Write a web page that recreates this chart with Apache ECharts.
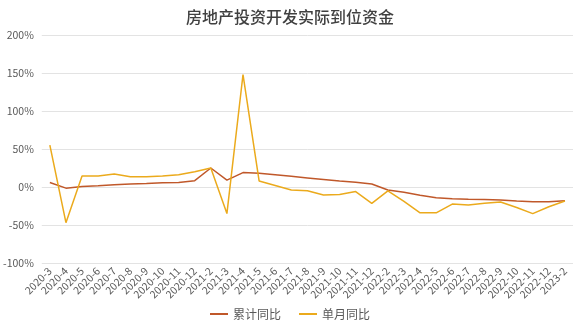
<!DOCTYPE html>
<html><head><meta charset="utf-8">
<script src="https://cdn.jsdelivr.net/npm/echarts@6/dist/echarts.min.js"></script>
<style>html,body{margin:0;padding:0;background:#fff}#c{width:580px;height:326px}</style>
</head><body><div id="c"></div>
<script>
var categories = ['2020-3','2020-4','2020-5','2020-6','2020-7','2020-8','2020-9','2020-10','2020-11','2020-12',
 '2021-2','2021-3','2021-4','2021-5','2021-6','2021-7','2021-8','2021-9','2021-10','2021-11','2021-12',
 '2022-2','2022-3','2022-4','2022-5','2022-6','2022-7','2022-8','2022-9','2022-10','2022-11','2022-12','2023-2'];
var cumulative = [6,-1.5,0.5,1.5,3,4,4.5,5.5,6,8.3,
 25,9,19,18,16,14,12,10,8,6.3,4,
 -4,-7,-11,-14,-15.3,-16,-16.5,-17,-18.4,-19.3,-19.3,-18];
var monthly = [55,-47,14.5,14.5,17,13.5,13.5,14.5,16,20,
 25,-35,148,8,2,-4,-5,-10.5,-10,-6,-21.5,
 -5,-19,-34,-34,-22.5,-23.7,-21.5,-19.7,-27,-35,-26,-18.5];
var yTicks = [-100,-50,0,50,100,150,200];
var chart = echarts.init(document.getElementById('c'));
chart.setOption({
  animation:false,
  textStyle:{fontFamily:'"Noto Sans CJK SC", "Noto Sans", sans-serif'},
  title:{text:'房地产投资开发实际到位资金',left:'center',top:4,
    textStyle:{fontSize:16,fontWeight:500,color:'#404040'}},
  grid:{left:40,right:7,top:35,bottom:63},
  legend:{bottom:1,left:'center',itemWidth:18,itemHeight:2,itemGap:18,icon:'rect',
    textStyle:{fontSize:12,color:'#595959'},
    data:['累计同比','单月同比']},
  xAxis:{type:'category',data:categories,boundaryGap:true,
    axisLine:{show:false},axisTick:{show:false},
    axisLabel:{rotate:45,fontSize:10.5,color:'#595959',interval:0,margin:6}},
  yAxis:{type:'value',min:yTicks[0],max:yTicks[yTicks.length-1],interval:50,
    axisLabel:{formatter:'{value}%',fontSize:10.5,color:'#595959'},
    splitLine:{lineStyle:{color:'#e3e3e3'}},
    axisLine:{show:false},axisTick:{show:false}},
  series:[
    {name:'累计同比',type:'line',data:cumulative,symbol:'none',
      lineStyle:{color:'#C0582A',width:1.5},itemStyle:{color:'#C0582A'}},
    {name:'单月同比',type:'line',data:monthly,symbol:'none',
      lineStyle:{color:'#EBAA1C',width:1.5},itemStyle:{color:'#EBAA1C'}}
  ]
});
</script></body></html>
